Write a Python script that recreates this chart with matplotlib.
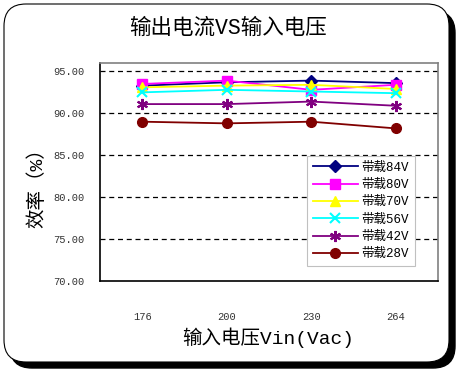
import matplotlib
matplotlib.use("Agg")
import matplotlib.pyplot as plt
from matplotlib.patches import FancyBboxPatch
from matplotlib.transforms import IdentityTransform

plt.rcParams['font.family'] = ['Noto Sans CJK SC', 'DejaVu Sans']
MIXED = ['Liberation Mono', 'Noto Sans CJK SC']

voltages = ["176", "200", "230", "264"]
series_names = ["带载84V", "带载80V", "带载70V", "带载56V", "带载42V", "带载28V"]
eff_84v = [93.3, 93.7, 93.9, 93.6]
eff_80v = [93.5, 93.9, 92.8, 93.4]
eff_70v = [93.1, 93.3, 93.4, 92.9]
eff_56v = [92.5, 92.8, 92.6, 92.4]
eff_42v = [91.1, 91.1, 91.4, 90.9]
eff_28v = [89.0, 88.8, 89.0, 88.2]
y_ticks = [70, 75, 80, 85, 90, 95]

series = [eff_84v, eff_80v, eff_70v, eff_56v, eff_42v, eff_28v]
colors = ["#000080", "#FF00FF", "#FFFF00", "#00FFFF", "#800080", "#800000"]
markers = ["D", "s", "^", "x", (6, 2, 0), "o"]
msizes = [6, 7, 7, 7, 8, 7]

fig = plt.figure(figsize=(4.59, 3.73), dpi=100)

# rounded frame with a shadow, in pixel coords
shadow = FancyBboxPatch((10, 5), 445, 357, boxstyle="round,pad=0,rounding_size=22",
                        transform=IdentityTransform(), facecolor="black", edgecolor="black",
                        zorder=-10)
frame = FancyBboxPatch((4, 11), 445, 358, boxstyle="round,pad=0,rounding_size=22",
                       transform=IdentityTransform(), facecolor="white", edgecolor="black",
                       linewidth=0.8, zorder=-9)
fig.add_artist(shadow)
fig.add_artist(frame)

ax = fig.add_axes([100 / 459, 92 / 373, 338 / 459, 218 / 373])
ax.set_facecolor("white")

x = range(len(voltages))
for name, vals, c, m, ms in zip(series_names, series, colors, markers, msizes):
    mew = 1.5 if m in ("x", (6, 2, 0)) else 1
    ax.plot(x, vals, color=c, marker=m, markersize=ms, linewidth=1.3,
            markeredgecolor=c, markeredgewidth=mew, label=name, zorder=3)

ax.set_xlim(-0.5, 3.5)
ax.set_ylim(70, 96)
ax.set_xticks(list(x))
ax.set_xticklabels(voltages, family="Liberation Mono", fontsize=7.5, color="#333333")
ax.set_yticks(y_ticks)
ax.set_yticklabels([f"{v:.2f}" for v in y_ticks], family="Liberation Mono", fontsize=7.5,
                   color="#333333")
ax.tick_params(axis="both", length=0)
ax.tick_params(axis="y", pad=11)
ax.tick_params(axis="x", pad=22)

for v in y_ticks[1:]:
    ax.axhline(v, color="black", linestyle=(0, (4, 3)), linewidth=0.9, zorder=1)

ax.spines["left"].set_color("black")
ax.spines["bottom"].set_color("black")
ax.spines["top"].set_color("#808080")
ax.spines["right"].set_color("#808080")
for s in ax.spines.values():
    s.set_linewidth(1.2)

leg = ax.legend(loc="lower right", bbox_to_anchor=(0.95, 0.04),
                prop={"family": MIXED, "size": 9},
                frameon=True, fancybox=False, edgecolor="#C0C0C0", framealpha=1,
                handlelength=3.6, labelspacing=0.42, borderpad=0.45, handletextpad=0.3)
leg.get_frame().set_linewidth(0.8)

fig.text(228 / 459, 1 - 28 / 373, "输出电流VS输入电压", ha="center", va="center",
         fontsize=15.5, family=MIXED)
fig.text(268 / 459, 1 - 338 / 373, "输入电压Vin(Vac)", ha="center", va="center",
         fontsize=14, family=MIXED)
fig.text(37 / 459, 1 - 183 / 373, "效率（%）", ha="center", va="center", rotation=90,
         fontsize=14, family=MIXED)

fig.savefig("out.png", dpi=100)
